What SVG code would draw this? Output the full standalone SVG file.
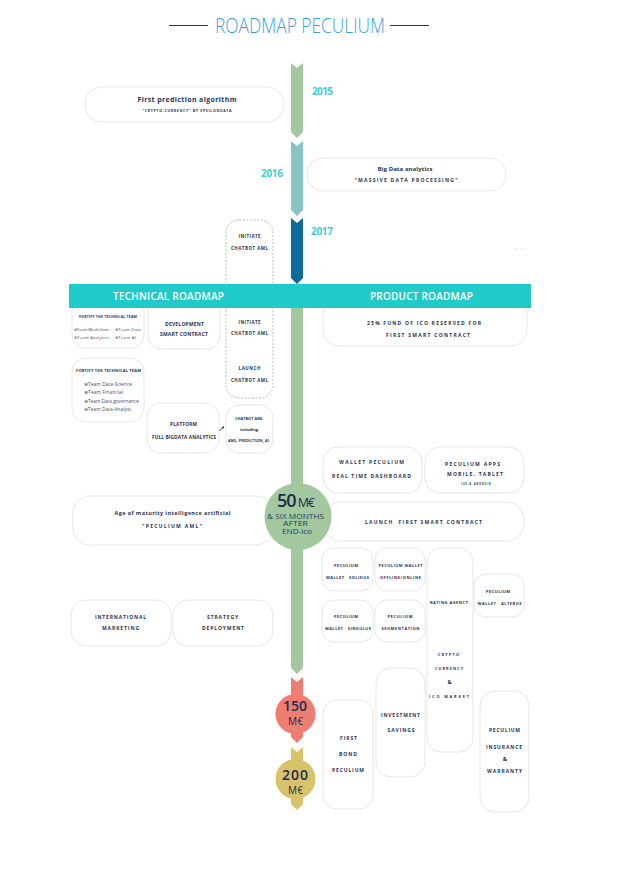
<svg xmlns="http://www.w3.org/2000/svg" width="639" height="874" viewBox="0 0 639 874">
<style>
.box{fill:#fff;stroke:#e6e6e6;stroke-width:1}
.dash{fill:#fff;stroke:#a8a8a8;stroke-width:0.8;stroke-dasharray:2 1.6}
.t{font-family:"Open Sans","Liberation Sans",sans-serif;font-weight:700;fill:#2a3352;text-anchor:middle}
.i{font-family:"Open Sans","Liberation Sans",sans-serif;font-weight:400;fill:#4a4f60;text-anchor:start}
.yr{font-family:"Open Sans","Liberation Sans",sans-serif;font-weight:700;fill:#3ecfd0;font-size:10px}
.band{font-family:"Open Sans","Liberation Sans",sans-serif;font-weight:600;fill:#fff;font-size:10px;text-anchor:middle}
.m{font-family:"Open Sans","Liberation Sans",sans-serif;fill:#1d2b4f;text-anchor:middle}
.s{font-family:"Open Sans","Liberation Sans",sans-serif;fill:#22415f;text-anchor:middle;font-size:7px}
</style>
<defs>
<marker id="ah" viewBox="0 0 4 4" refX="3" refY="2" markerWidth="3" markerHeight="3" orient="auto"><path d="M0,0 L4,2 L0,4 z" fill="#222"/></marker>
</defs>
<rect width="639" height="874" fill="#fff"/>

<g id="title">
<line x1="169" y1="25.5" x2="208" y2="25.5" stroke="#333" stroke-width="1"/>
<line x1="390" y1="25.5" x2="429" y2="25.5" stroke="#333" stroke-width="1"/>
<text x="300" y="33" font-family="'Open Sans','Liberation Sans',sans-serif" font-weight="300" font-size="20" fill="#3d9fdb" text-anchor="middle" textLength="170" lengthAdjust="spacingAndGlyphs">ROADMAP PECULIUM</text>
</g>

<g id="n-first-prediction">
<rect class="box" x="85" y="87" width="199" height="35" rx="17"/>
<text class="t" x="187" y="102" font-size="7" textLength="99">First prediction algorithm</text>
<text class="t" x="187" y="111.5" font-size="3.5" textLength="89">"CRYPTO-CURRENCY" BY EPSILONDATA</text>
</g>

<g id="n-big-data">
<rect class="box" x="307" y="158" width="199" height="33" rx="16"/>
<text class="t" x="405" y="170.5" font-size="6" textLength="55">Big Data analytics</text>
<text class="t" x="406" y="182" font-size="5" textLength="103">"MASSIVE DATA PROCESSING"</text>
</g>

<g id="n-chatbot-dashed">
<rect class="dash" x="226" y="220" width="47" height="178" rx="13"/>
<text class="t" x="249.5" y="237.5" font-size="4.5" textLength="22">INITIATE</text>
<text class="t" x="249.5" y="249.5" font-size="4.5" textLength="37">CHATBOT AML</text>
<text class="t" x="249.5" y="324" font-size="4.5" textLength="22">INITIATE</text>
<text class="t" x="249.5" y="334.5" font-size="4.5" textLength="37">CHATBOT AML</text>
<text class="t" x="249.5" y="370" font-size="4.5" textLength="22">LAUNCH</text>
<text class="t" x="249.5" y="381.5" font-size="4.5" textLength="37">CHATBOT AML</text>
</g>

<g id="n-fortify-1">
<rect class="box" x="72" y="298" width="72" height="50" rx="13"/>
<text class="t" x="108" y="318" font-size="3.6" textLength="58">FORTIFY THE TECHNICAL TEAM</text>
<text class="i" x="74" y="331" font-size="4.3" textLength="35">⊛Team BlockChain</text>
<text class="i" x="115" y="331" font-size="4.3" textLength="26">⊛Team Data</text>
<text class="i" x="74" y="339" font-size="4.3" textLength="35">⊛Team Analytics</text>
<text class="i" x="115" y="339" font-size="4.3" textLength="21">⊛Team AI</text>
</g>

<g id="n-development">
<rect class="box" x="148" y="298" width="72" height="51" rx="13"/>
<text class="t" x="184.5" y="326" font-size="5" textLength="39">DEVELOPMENT</text>
<text class="t" x="184" y="336" font-size="5" textLength="48">SMART CONTRACT</text>
</g>

<g id="n-fortify-2">
<rect class="box" x="72" y="358" width="72" height="64" rx="14"/>
<text class="t" x="108.5" y="371.5" font-size="4" textLength="65">FORTIFY THE TECHNICAL TEAM</text>
<text class="i" x="84" y="386" font-size="4.8" textLength="48">⊛Team Data-Science</text>
<text class="i" x="84" y="394" font-size="4.8" textLength="39">⊛Team Financial</text>
<text class="i" x="84" y="403" font-size="4.8" textLength="55">⊛Team Data governance</text>
<text class="i" x="84" y="411" font-size="4.8" textLength="47">⊛Team Data-Analyst</text>
</g>

<g id="n-platform">
<rect class="box" x="147" y="403" width="72" height="50" rx="14"/>
<text class="t" x="183.5" y="426" font-size="4.8" textLength="27">PLATFORM</text>
<text class="t" x="184" y="439" font-size="4.8" textLength="64">FULL BIGDATA ANALYTICS</text>
</g>

<g id="n-chatbot-incl">
<rect class="box" x="226" y="405" width="47" height="48" rx="13"/>
<text class="t" x="249" y="420" font-size="3.8" textLength="28">CHATBOT AML</text>
<text class="t" x="249" y="431" font-size="4" font-weight="400" textLength="18">including</text>
<text class="t" x="248.5" y="441.5" font-size="3.8" textLength="41">AML, PREDICTION, AI</text>
</g>

<g id="n-fund">
<rect class="box" x="323" y="298" width="204" height="48" rx="16"/>
<text class="t" x="424" y="325" font-size="5" textLength="114">25% FUND OF ICO RESERVED FOR</text>
<text class="t" x="428" y="337" font-size="5" textLength="84">FIRST SMART CONTRACT</text>
</g>

<g id="n-wallet">
<rect class="box" x="323" y="447" width="99" height="46" rx="15"/>
<text class="t" x="371.5" y="464" font-size="5" textLength="65">WALLET PECULIUM</text>
<text class="t" x="371.5" y="478" font-size="5" textLength="79">REAL TIME DASHBOARD</text>
</g>

<g id="n-apps">
<rect class="box" x="425" y="447" width="99" height="46" rx="15"/>
<text class="t" x="472.5" y="466" font-size="5" textLength="55">PECULIUM APPS</text>
<text class="t" x="475" y="476" font-size="5" textLength="56">MOBILE, TABLET</text>
<text class="t" x="476" y="485" font-size="2.6" textLength="30">IOS &amp; ANDROID</text>
</g>

<g id="n-age">
<rect class="box" x="73" y="496" width="200" height="49" rx="17"/>
<text class="t" x="172.5" y="514.5" font-size="5.5" textLength="116">Age of maturity intelligence artificial</text>
<text class="t" x="172" y="528" font-size="5" textLength="60">"PECULIUM AML"</text>
</g>

<g id="n-launch">
<rect class="box" x="323" y="502" width="201" height="39" rx="18"/>
<text class="t" x="423.5" y="524" font-size="5" textLength="117" xml:space="preserve">LAUNCH  FIRST SMART CONTRACT</text>
</g>

<g id="n-solidus">
<rect class="box" x="322" y="548" width="51" height="43" rx="12"/>
<text class="t" x="346" y="566.5" font-size="4" textLength="24">PECULIUM</text>
<text class="t" x="347.5" y="578.5" font-size="4" textLength="43" xml:space="preserve">WALLET   SOLIDUS</text>
</g>

<g id="n-offline">
<rect class="box" x="375" y="548" width="50" height="43" rx="12"/>
<text class="t" x="400.5" y="566.5" font-size="4" textLength="44">PECULIUM WALLET</text>
<text class="t" x="400.5" y="578.5" font-size="4" textLength="41">OFFLINE/ONLINE</text>
</g>

<g id="n-rating">
<rect class="box" x="427" y="548" width="46" height="204" rx="14"/>
<text class="t" x="449" y="604" font-size="4" textLength="38">RATING AGENCY</text>
<text class="t" x="448.5" y="656" font-size="3.8" textLength="21">CRYPTO</text>
<text class="t" x="449" y="670" font-size="3.8" textLength="28">CURRENCY</text>
<text class="t" x="449.5" y="684" font-size="5.5" textLength="5">&amp;</text>
<text class="t" x="449" y="698" font-size="3.8" textLength="40">ICO MARKET</text>
</g>

<g id="n-alterus">
<rect class="box" x="474" y="574" width="50" height="43" rx="12"/>
<text class="t" x="498" y="593" font-size="4" textLength="24">PECULIUM</text>
<text class="t" x="499.5" y="605" font-size="4" textLength="44" xml:space="preserve">WALLET   ALTERUS</text>
</g>

<g id="n-singulus">
<rect class="box" x="322" y="600" width="51" height="42" rx="12"/>
<text class="t" x="346" y="618" font-size="4" textLength="24">PECULIUM</text>
<text class="t" x="348" y="630" font-size="4" textLength="46" xml:space="preserve">WALLET   SINGULUS</text>
</g>

<g id="n-segmentation">
<rect class="box" x="375" y="600" width="50" height="42" rx="12"/>
<text class="t" x="400" y="618" font-size="4" textLength="25">PECULIUM</text>
<text class="t" x="400.5" y="630" font-size="4" textLength="38">SEGMENTATION</text>
</g>

<g id="n-international">
<rect class="box" x="71" y="600" width="100" height="46" rx="15"/>
<text class="t" x="120.5" y="619" font-size="5" textLength="51">INTERNATIONAL</text>
<text class="t" x="120.5" y="630" font-size="5" textLength="37">MARKETING</text>
</g>

<g id="n-strategy">
<rect class="box" x="173" y="600" width="100" height="46" rx="15"/>
<text class="t" x="222.5" y="619" font-size="5" textLength="31">STRATEGY</text>
<text class="t" x="223" y="630" font-size="5" textLength="42">DEPLOYMENT</text>
</g>

<g id="n-bond">
<rect class="box" x="323" y="700" width="50" height="109" rx="14"/>
<text class="t" x="348.5" y="740" font-size="5" textLength="17">FIRST</text>
<text class="t" x="348" y="756" font-size="5" textLength="18">BOND</text>
<text class="t" x="348" y="772" font-size="5" textLength="32">PECULIUM</text>
</g>

<g id="n-investment">
<rect class="box" x="376" y="668" width="49" height="109" rx="15"/>
<text class="t" x="400.5" y="717" font-size="5" textLength="39">INVESTMENT</text>
<text class="t" x="401" y="732" font-size="5" textLength="27">SAVINGS</text>
</g>

<g id="n-insurance">
<rect class="box" x="480" y="691" width="49" height="121" rx="15"/>
<text class="t" x="504.5" y="732" font-size="5" textLength="31">PECULIUM</text>
<text class="t" x="504" y="749" font-size="5" textLength="36">INSURANCE</text>
<text class="t" x="505" y="761" font-size="6" textLength="5">&amp;</text>
<text class="t" x="504.5" y="773" font-size="5" textLength="35">WARRANTY</text>
</g>

<g id="timeline">
<polygon points="291,63 297,68 303,63 303,132 297,138 291,132" fill="#a3c8a0"/>
<polygon points="291,141 297,146 303,141 303,210 297,216 291,210" fill="#88c6c4"/>
<polygon points="291,218 297,223 303,218 303,278 297,284 291,278" fill="#0e6a9a"/>
<polygon points="291,306 303,306 303,668 297,674 291,668" fill="#a3c8a0"/>
</g>

<g id="band">
<rect x="69" y="284" width="462" height="24" fill="#1fcbc8"/>
<text class="band" x="168.5" y="300" textLength="111">TECHNICAL ROADMAP</text>
<text class="band" x="421.5" y="300" textLength="103">PRODUCT ROADMAP</text>
</g>

<g id="years">
<text class="yr" x="312" y="95" textLength="21">2015</text>
<text class="yr" x="261" y="177" textLength="22">2016</text>
<text class="yr" x="311" y="235" textLength="22">2017</text>
</g>

<g id="m-50">
<circle cx="298" cy="516.5" r="33.5" fill="#a3c8a0"/>
<text class="m" x="296" y="507" textLength="38"><tspan font-size="18" font-weight="600">50</tspan><tspan font-size="12.5"> M€</tspan></text>
<text class="s" x="295.5" y="518.5" textLength="57" lengthAdjust="spacingAndGlyphs">&amp; SIX MONTHS</text>
<text class="s" x="295.5" y="526" textLength="25" lengthAdjust="spacingAndGlyphs">AFTER</text>
<text class="s" x="297" y="533.5" textLength="30" lengthAdjust="spacingAndGlyphs">END-ico</text>
</g>

<g id="m-150">
<polygon points="291,677 297,682 303,677 303,737 297,743 291,737" fill="#ef7e72"/>
<circle cx="295.5" cy="714" r="20" fill="#ef7e72"/>
<text class="m" x="295" y="711" font-size="14" font-weight="600" textLength="24">150</text>
<text class="m" x="295.5" y="725" font-size="10" textLength="15">M€</text>
</g>

<g id="m-200">
<polygon points="291,747 297,752 303,747 303,804 297,810 291,804" fill="#d8c36a"/>
<circle cx="295.5" cy="779" r="20" fill="#d8c36a"/>
<text class="m" x="295" y="779.5" font-size="14" font-weight="600" textLength="26">200</text>
<text class="m" x="295.5" y="793.5" font-size="10" textLength="15">M€</text>
</g>

<g id="connectors">
<path d="M219.5,431 L223.8,426.7" stroke="#222" stroke-width="0.8" fill="none" marker-end="url(#ah)"/>
<line x1="514" y1="249" x2="526" y2="249" stroke="#cfcfcf" stroke-width="0.6" stroke-dasharray="1 1"/>
</g>
</svg>
